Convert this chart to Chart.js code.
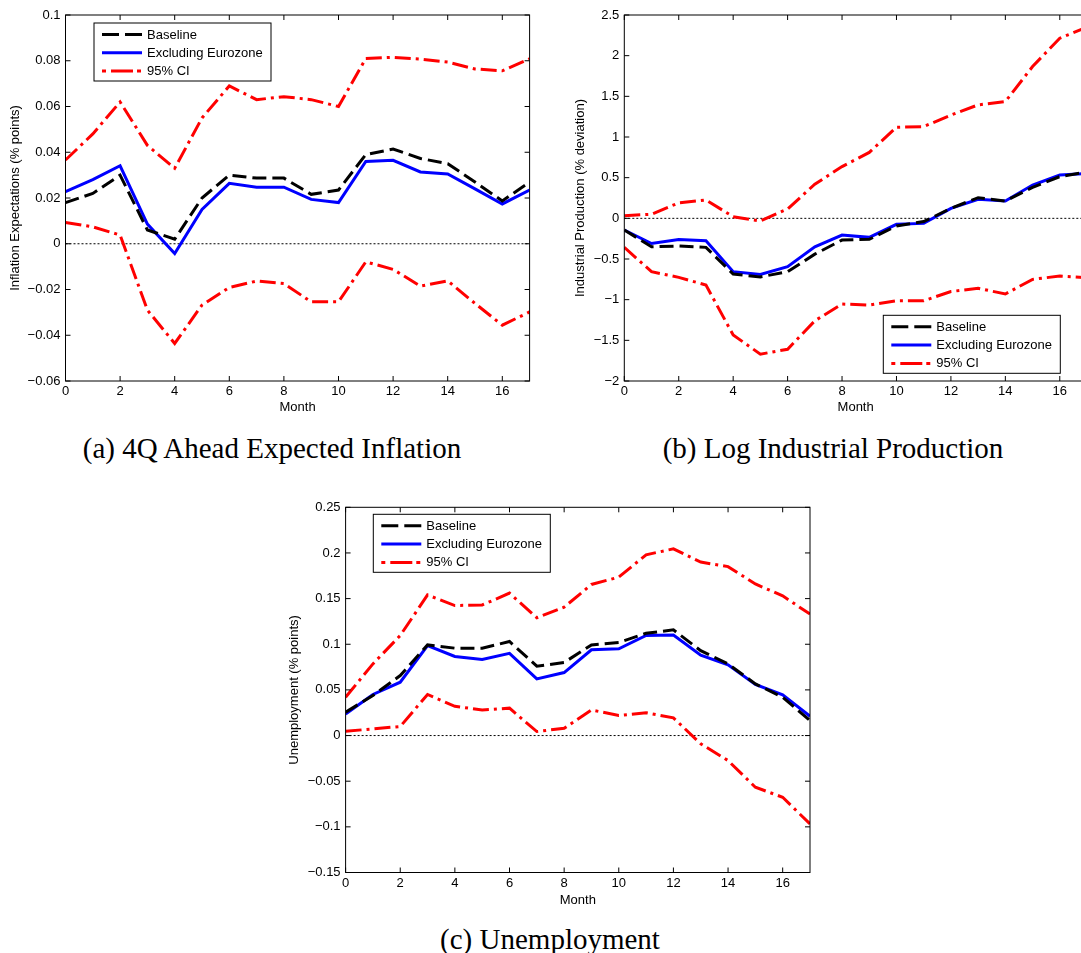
<!DOCTYPE html>
<html>
<head>
<meta charset="utf-8">
<script src="https://cdn.jsdelivr.net/npm/chart.js@4.4.1/dist/chart.umd.min.js"></script>
<style>
  html, body { margin: 0; padding: 0; background: #fff; width: 1081px; height: 953px; overflow: hidden; }
  canvas { position: absolute; }
  .caption {
    position: absolute; font-family: "Liberation Serif", serif; font-size: 29px;
    line-height: 29px; color: #000; white-space: nowrap; transform: translateX(-50%);
  }
</style>
</head>
<body>
<canvas id="chartA" width="545" height="415" style="left:0;top:0"></canvas>
<canvas id="chartB" width="540" height="415" style="left:560px;top:0"></canvas>
<canvas id="chartC" width="545" height="416" style="left:280px;top:492px"></canvas>
<div class="caption" style="left:272px;top:434px">(a) 4Q Ahead Expected Inflation</div>
<div class="caption" style="left:833px;top:434px">(b) Log Industrial Production</div>
<div class="caption" style="left:550px;top:925px">(c) Unemployment</div>
<script>
// months after the shock
const months = [0, 1, 2, 3, 4, 5, 6, 7, 8, 9, 10, 11, 12, 13, 14, 15, 16, 17];
const monthTicks = [0, 2, 4, 6, 8, 10, 12, 14, 16];

// (a) 4Q ahead expected inflation
const inflBaseline = [0.018, 0.022, 0.030, 0.006, 0.002, 0.020, 0.030, 0.0287, 0.0287, 0.0216, 0.0235, 0.039, 0.0414, 0.0373, 0.035, 0.027, 0.0187, 0.027];
const inflExEuro = [0.0228, 0.028, 0.0341, 0.0086, -0.0043, 0.015, 0.0264, 0.0247, 0.0247, 0.0194, 0.018, 0.036, 0.0365, 0.0314, 0.0305, 0.024, 0.0174, 0.0235];
const inflUpper = [0.0366, 0.048, 0.062, 0.043, 0.033, 0.055, 0.069, 0.063, 0.0643, 0.063, 0.060, 0.081, 0.0815, 0.0807, 0.0794, 0.0764, 0.0756, 0.0808];
const inflLower = [0.0093, 0.0074, 0.0038, -0.029, -0.0436, -0.0268, -0.0191, -0.0163, -0.0174, -0.0254, -0.0254, -0.0079, -0.0112, -0.0185, -0.0162, -0.0261, -0.0356, -0.0298];
const inflTicks = [-0.06, -0.04, -0.02, 0, 0.02, 0.04, 0.06, 0.08, 0.1];

// (b) log industrial production
const ipBaseline = [-0.144, -0.35, -0.34, -0.357, -0.685, -0.72, -0.656, -0.44, -0.267, -0.258, -0.094, -0.04, 0.123, 0.254, 0.213, 0.38, 0.513, 0.57];
const ipExEuro = [-0.144, -0.31, -0.26, -0.275, -0.656, -0.69, -0.595, -0.35, -0.205, -0.234, -0.074, -0.062, 0.123, 0.234, 0.213, 0.41, 0.533, 0.55];
const ipUpper = [0.033, 0.05, 0.19, 0.225, 0.02, -0.033, 0.115, 0.42, 0.636, 0.81, 1.12, 1.128, 1.27, 1.395, 1.435, 1.866, 2.215, 2.35];
const ipLower = [-0.357, -0.656, -0.726, -0.82, -1.435, -1.67, -1.61, -1.26, -1.054, -1.066, -1.013, -1.013, -0.9, -0.86, -0.93, -0.75, -0.71, -0.73];
const ipTicks = [-2, -1.5, -1, -0.5, 0, 0.5, 1, 1.5, 2, 2.5];

// (c) unemployment
const unBaseline = [0.0256, 0.0438, 0.0657, 0.0993, 0.0957, 0.0957, 0.103, 0.076, 0.080, 0.0993, 0.102, 0.112, 0.1158, 0.093, 0.0785, 0.0566, 0.042, 0.0164];
const unExEuro = [0.0237, 0.045, 0.0584, 0.0986, 0.0866, 0.0833, 0.090, 0.062, 0.069, 0.0939, 0.095, 0.1096, 0.110, 0.088, 0.0774, 0.0559, 0.0446, 0.0212];
const unUpper = [0.042, 0.0785, 0.1096, 0.154, 0.1424, 0.143, 0.156, 0.129, 0.1406, 0.1655, 0.1735, 0.198, 0.2045, 0.19, 0.185, 0.166, 0.153, 0.133];
const unLower = [0.0047, 0.0073, 0.0099, 0.045, 0.032, 0.028, 0.030, 0.0044, 0.008, 0.028, 0.022, 0.025, 0.0194, -0.009, -0.0274, -0.0566, -0.0676, -0.0968];
const unTicks = [-0.15, -0.1, -0.05, 0, 0.05, 0.1, 0.15, 0.2, 0.25];

const FONT = "'Liberation Sans', Arial, sans-serif";

// matlab style box, inward ticks, dotted zero line and boxed legend
const matlabFrame = {
  id: "matlabFrame",
  beforeDatasetsDraw(chart) {
    const { ctx, chartArea: a, scales } = chart;
    const y0 = scales.y.getPixelForValue(0);
    ctx.save();
    ctx.strokeStyle = "#000";
    ctx.lineWidth = 1;
    ctx.setLineDash([2, 2]);
    ctx.beginPath();
    ctx.moveTo(a.left, y0);
    ctx.lineTo(a.right, y0);
    ctx.stroke();
    ctx.restore();
  },
  afterDatasetsDraw(chart, args, opts) {
    const { ctx, chartArea: a, scales } = chart;
    const tl = 5;
    ctx.save();
    ctx.strokeStyle = "#000";
    ctx.lineWidth = 1;
    ctx.setLineDash([]);
    ctx.strokeRect(a.left, a.top, a.right - a.left, a.bottom - a.top);
    ctx.beginPath();
    scales.x.ticks.forEach((t) => {
      const px = scales.x.getPixelForValue(t.value);
      ctx.moveTo(px, a.bottom); ctx.lineTo(px, a.bottom - tl);
      ctx.moveTo(px, a.top); ctx.lineTo(px, a.top + tl);
    });
    scales.y.ticks.forEach((t) => {
      const py = scales.y.getPixelForValue(t.value);
      ctx.moveTo(a.left, py); ctx.lineTo(a.left + tl, py);
      ctx.moveTo(a.right, py); ctx.lineTo(a.right - tl, py);
    });
    ctx.stroke();

    // legend
    const bx = a.left + opts.x, by = a.top + opts.y;
    ctx.fillStyle = "#fff";
    ctx.fillRect(bx, by, opts.w, 58);
    ctx.strokeRect(bx, by, opts.w, 58);
    ctx.font = "13px " + FONT;
    ctx.textBaseline = "middle";
    const items = chart.data.datasets.filter((d) => !d.noLegend);
    items.forEach((d, i) => {
      const ry = by + 11.5 + i * 18.3;
      ctx.strokeStyle = d.borderColor;
      ctx.lineWidth = d.borderWidth;
      ctx.setLineDash(d.legendDash || []);
      ctx.beginPath();
      ctx.moveTo(bx + 8, ry);
      ctx.lineTo(bx + 48, ry);
      ctx.stroke();
      ctx.fillStyle = "#000";
      ctx.fillText(d.label, bx + 53, ry + 0.5);
    });
    ctx.restore();
  },
};

function fmt(v) {
  const s = String(Math.round(v * 1000) / 1000);
  return s === "0" || s === "-0" ? "0" : s.replace("-", "\u2212");
}

function makeChart(id, p) {
  const ctx = document.getElementById(id);
  return new Chart(ctx, {
    type: "line",
    plugins: [matlabFrame],
    data: {
      labels: months,
      datasets: [
        { label: "Baseline", data: p.baseline, borderColor: "#000", borderWidth: 3, borderDash: [14, 6], legendDash: [17, 6] },
        { label: "Excluding Eurozone", data: p.exEuro, borderColor: "#0000ff", borderWidth: 3 },
        { label: "95% CI", data: p.upper, borderColor: "#ff0000", borderWidth: 3, borderDash: [16, 5, 3, 5], legendDash: [4, 5, 22, 4, 4, 10] },
        { label: "95% CI", data: p.lower, borderColor: "#ff0000", borderWidth: 3, borderDash: [16, 5, 3, 5], noLegend: true },
      ],
    },
    options: {
      responsive: false,
      animation: false,
      events: [],
      elements: { point: { radius: 0 }, line: { tension: 0 } },
      layout: { padding: p.padding },
      plugins: { legend: { display: false }, tooltip: { enabled: false }, matlabFrame: p.legend },
      scales: {
        x: {
          type: "linear",
          min: 0,
          max: 17,
          afterBuildTicks: (s) => { s.ticks = monthTicks.map((v) => ({ value: v })); },
          afterFit: (s) => { s.height = p.xHeight; },
          grid: { display: false, drawTicks: false },
          border: { display: false },
          ticks: { color: "#000", font: { family: FONT, size: 13 }, padding: 3, maxRotation: 0, callback: (v) => String(v) },
          title: { display: true, text: "Month", color: "#000", font: { family: FONT, size: 13 }, padding: { top: 0, bottom: 0 } },
        },
        y: {
          min: p.ticks[0],
          max: p.ticks[p.ticks.length - 1],
          afterBuildTicks: (s) => { s.ticks = p.ticks.map((v) => ({ value: v })); },
          afterFit: (s) => { s.width = p.yWidth; },
          grid: { display: false, drawTicks: false },
          border: { display: false },
          ticks: { color: "#000", font: { family: FONT, size: 13 }, padding: 5, callback: (v) => fmt(v) },
          title: { display: true, text: p.yTitle, color: "#000", font: { family: FONT, size: 13 }, padding: { top: p.yTitlePad, bottom: 0 } },
        },
      },
    },
  });
}

makeChart("chartA", {
  baseline: inflBaseline, exEuro: inflExEuro, upper: inflUpper, lower: inflLower, ticks: inflTicks,
  yTitle: "Inflation Expectations (% points)", yTitlePad: 7.7, yWidth: 65.5, xHeight: 34,
  padding: { left: 0, top: 15, right: 15.4, bottom: 0 },
  legend: { x: 28.5, y: 8, w: 177 },
});

makeChart("chartB", {
  baseline: ipBaseline, exEuro: ipExEuro, upper: ipUpper, lower: ipLower, ticks: ipTicks,
  yTitle: "Industrial Production (% deviation)", yTitlePad: 12.9, yWidth: 64.3, xHeight: 34,
  padding: { left: 0, top: 15, right: 13, bottom: 0 },
  legend: { x: 259, y: 300.3, w: 177 },
});

makeChart("chartC", {
  baseline: unBaseline, exEuro: unExEuro, upper: unUpper, lower: unLower, ticks: unTicks,
  yTitle: "Unemployment (% points)", yTitlePad: 6.7, yWidth: 65.6, xHeight: 35.5,
  padding: { left: 0, top: 15.3, right: 15, bottom: 0 },
  legend: { x: 27.7, y: 7, w: 177 },
});
</script>
</body>
</html>
